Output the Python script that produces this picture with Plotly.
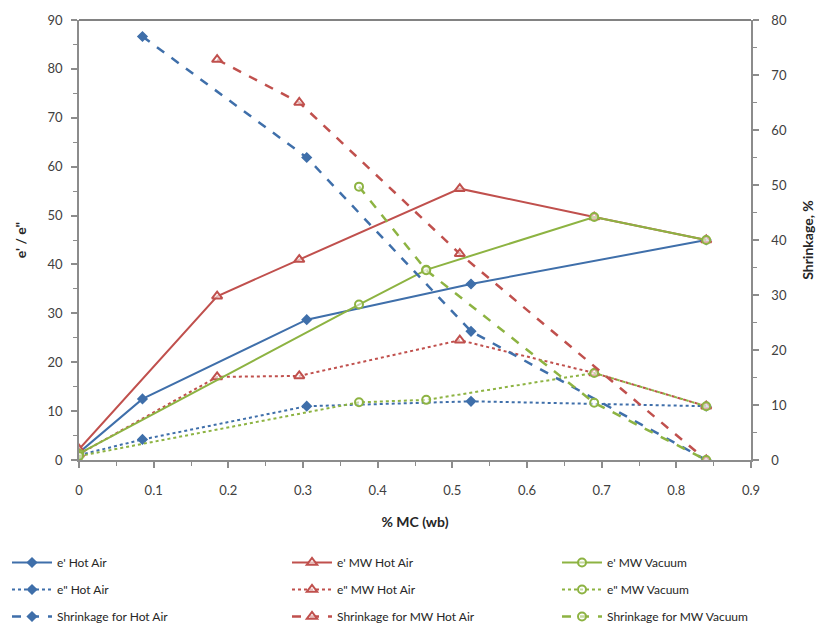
import plotly.graph_objects as go

# ---- data ----
x_ha = [0, 0.085, 0.305, 0.525, 0.84]
e1_ha = [1.5, 12.5, 28.7, 36.0, 45.0]
x_ha2 = [0, 0.085, 0.305, 0.525, 0.84]
e2_ha = [1.0, 4.2, 11.0, 12.0, 11.0]

x_mwha = [0, 0.185, 0.295, 0.51, 0.69, 0.84]
e1_mwha = [2.2, 33.5, 41.0, 55.5, 49.7, 45.0]
e2_mwha = [1.2, 17.0, 17.2, 24.5, 17.8, 11.0]

x_mwv = [0, 0.375, 0.465, 0.69, 0.84]
e1_mwv = [1.3, 31.8, 38.9, 49.7, 45.0]
e2_mwv = [0.8, 11.8, 12.3, 17.8, 11.0]

xs_ha = [0.085, 0.305, 0.525, 0.84]
sh_ha = [77.0, 55.0, 23.4, 0]
xs_mwha = [0.185, 0.295, 0.51, 0.84]
sh_mwha = [72.8, 65.0, 37.5, 0]
xs_mwv = [0.375, 0.465, 0.69, 0.84]
sh_mwv = [49.7, 34.5, 10.4, 0]

x_ticks = [0, 0.1, 0.2, 0.3, 0.4, 0.5, 0.6, 0.7, 0.8, 0.9]
x_tick_text = ["0", "0.1", "0.2", "0.3", "0.4", "0.5", "0.6", "0.7", "0.8", "0.9"]

BLUE = "#3F6FAA"
RED = "#C0504D"
GREEN = "#8DB342"

FONT = "Lato"

fig = go.Figure()

def add(name, x, y, color, dash, symbol, legend, yaxis="y", msize=7, lw=2):
    if symbol == "diamond":
        marker = dict(symbol="diamond", size=msize, color=color, line=dict(color=color, width=1.5))
    elif symbol == "triangle":
        marker = dict(symbol="triangle-up", size=msize + 2, color="rgba(255,255,255,0.6)",
                      line=dict(color=color, width=2))
    else:
        marker = dict(symbol="circle", size=msize + 1, color="rgba(255,255,255,0.5)",
                      line=dict(color=color, width=2))
    fig.add_trace(go.Scatter(
        x=x, y=y, name=name, mode="lines+markers", yaxis=yaxis,
        legend=legend, legendgroup=name,
        line=dict(color=color, width=lw, dash=dash), marker=marker,
    ))

add("e' Hot Air", x_ha, e1_ha, BLUE, "solid", "diamond", "legend")
add("e\" Hot Air", x_ha2, e2_ha, BLUE, "dot", "diamond", "legend")
add("Shrinkage for Hot Air", xs_ha, sh_ha, BLUE, "dash", "diamond", "legend", yaxis="y2", lw=2.5)
add("e' MW Hot Air", x_mwha, e1_mwha, RED, "solid", "triangle", "legend2")
add("e\" MW Hot Air", x_mwha, e2_mwha, RED, "dot", "triangle", "legend2")
add("Shrinkage for MW Hot Air", xs_mwha, sh_mwha, RED, "dash", "triangle", "legend2", yaxis="y2", lw=2.5)
add("e' MW Vacuum", x_mwv, e1_mwv, GREEN, "solid", "circle", "legend3")
add("e\" MW Vacuum", x_mwv, e2_mwv, GREEN, "dot", "circle", "legend3")
add("Shrinkage for MW Vacuum", xs_mwv, sh_mwv, GREEN, "dash", "circle", "legend3", yaxis="y2", lw=2.5)

axis_line = "#8C8C8C"
tick_font = dict(family=FONT, size=13, color="#404040")

plot_w = 832 - 79 - 81
plot_h = 626 - 20 - 166
leg_top = (460 - 548) / plot_h

def legend_at(px):
    return dict(
        orientation="v", x=(px - 79) / plot_w, xanchor="left",
        y=leg_top, yanchor="top",
        font=dict(family=FONT, size=12, color="#262626"),
        itemwidth=40, traceorder="grouped", tracegroupgap=8,
        bgcolor="rgba(0,0,0,0)",
    )

fig.update_layout(
    width=832, height=626,
    margin=dict(l=79, r=81, t=20, b=166, autoexpand=False),
    paper_bgcolor="white", plot_bgcolor="white",
    font=dict(family=FONT, color="#262626"),
    showlegend=True,
    legend=legend_at(7),
    legend2=legend_at(287),
    legend3=legend_at(557),
    xaxis=dict(
        range=[0, 0.9], tickvals=x_ticks, ticktext=x_tick_text,
        showgrid=False, zeroline=False, automargin=False,
        showline=True, linecolor=axis_line, linewidth=1.5,
        ticks="outside", ticklen=6, tickcolor=axis_line, tickwidth=1.5,
        ticklabelstandoff=12,
        minor=dict(ticks="outside", ticklen=4, dtick=0.05, tickcolor=axis_line, tickwidth=1),
        tickfont=tick_font,
        title=dict(text="<b>% MC (wb)</b>", font=dict(family=FONT, size=14, color="#262626"), standoff=20),
    ),
    yaxis=dict(
        range=[0, 90], dtick=10,
        showgrid=False, zeroline=False, automargin=False,
        showline=True, linecolor=axis_line, linewidth=1.5,
        ticks="outside", ticklen=6, tickcolor=axis_line, tickwidth=1.5,
        ticklabelstandoff=6,
        minor=dict(ticks="outside", ticklen=4, dtick=5, tickcolor=axis_line, tickwidth=1),
        tickfont=tick_font,
        title=dict(text="<b>e' / e\"</b>", font=dict(family=FONT, size=14, color="#262626"), standoff=18),
    ),
    yaxis2=dict(
        range=[0, 80], dtick=10, overlaying="y", side="right",
        showgrid=False, zeroline=False, automargin=False,
        showline=True, linecolor=axis_line, linewidth=1.5,
        ticks="outside", ticklen=6, tickcolor=axis_line, tickwidth=1.5,
        ticklabelstandoff=10,
        minor=dict(ticks="outside", ticklen=4, dtick=5, tickcolor=axis_line, tickwidth=1),
        tickfont=tick_font,
        title=dict(text="<b>Shrinkage, %</b>", font=dict(family=FONT, size=14, color="#262626"), standoff=17),
    ),
    shapes=[dict(type="line", xref="paper", yref="paper", x0=0, x1=1, y0=1, y1=1,
                 line=dict(color="#595959", width=1.5))],
)

fig.write_html("out.html", config={"displayModeBar": False},
               post_script="document.body.style.margin='0';")
